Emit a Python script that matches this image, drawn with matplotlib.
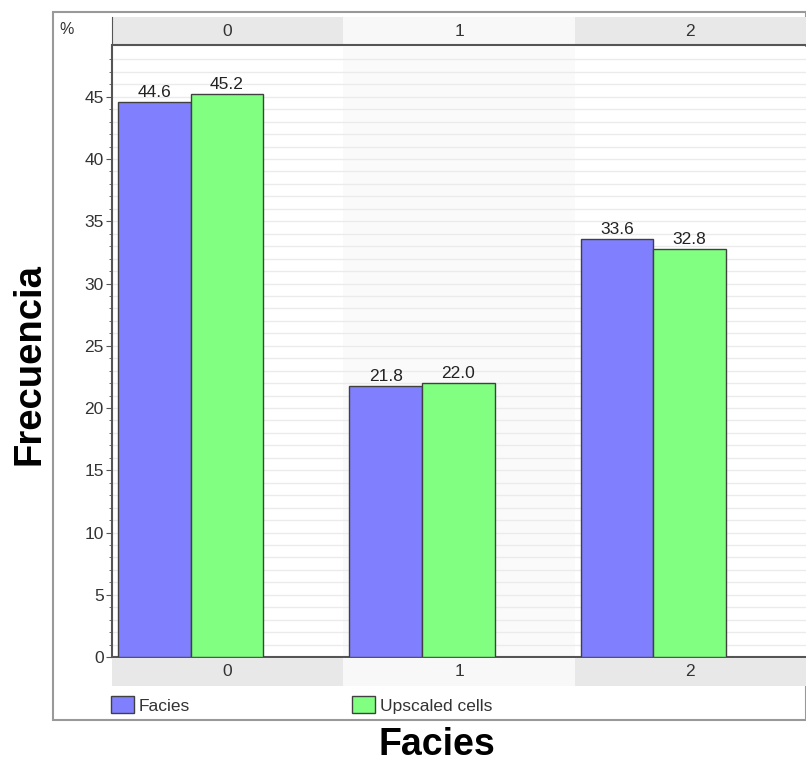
import matplotlib.pyplot as plt
from matplotlib.patches import Rectangle, Patch
import numpy as np

plt.rcParams['font.family'] = ['Liberation Sans', 'DejaVu Sans']

categories = ['0', '1', '2']
facies = [44.6, 21.8, 33.6]
upscaled = [45.2, 22.0, 32.8]
series_names = ['Facies', 'Upscaled cells']

W, H = 806, 766
fig = plt.figure(figsize=(W / 100, H / 100), dpi=100)
fs = 12.5


def box(x0, y0, x1, y1):
    # pixel box (top-left origin) -> figure fraction
    return [x0 / W, 1 - y1 / H, (x1 - x0) / W, (y1 - y0) / H]


# outer panel frame
fig.patches.append(Rectangle((53 / W, 1 - 720 / H), (W - 53) / W, (720 - 12) / H,
                             transform=fig.transFigure, facecolor='white',
                             edgecolor='#999999', lw=1.5, zorder=-5))

ax = fig.add_axes(box(112, 47, 806, 657))
x = np.arange(len(categories))
bw = 0.314
band_bg = ['white', '#fafafa', 'white']
for i in x:
    ax.axvspan(i - 0.5, i + 0.5, color=band_bg[i], zorder=0, lw=0)
ax.set_ylim(0, 49)
ax.set_xlim(-0.5, 2.5)
ax.set_yticks(np.arange(0, 46, 5))
ax.set_yticks(np.arange(0, 49, 1), minor=True)
ax.grid(axis='y', which='both', color='#ebebeb', lw=1, zorder=1)
ax.set_axisbelow(True)

b1 = ax.bar(x - 0.474, facies, bw, align='edge', color='#8080ff',
            edgecolor='#404040', lw=1, zorder=3)
b2 = ax.bar(x - 0.474 + bw, upscaled, bw, align='edge', color='#80ff80',
            edgecolor='#404040', lw=1, zorder=3)
for bars, vals in ((b1, facies), (b2, upscaled)):
    for r, v in zip(bars, vals):
        ax.text(r.get_x() + r.get_width() / 2, v + 0.15, f'{v:.1f}',
                ha='center', va='bottom', fontsize=fs, color='#222222')

ax.set_xticks([])
for s in ['top', 'right']:
    ax.spines[s].set_visible(False)
for s in ['left', 'bottom']:
    ax.spines[s].set_color('#555555')
    ax.spines[s].set_linewidth(1.5)
ax.tick_params(axis='y', which='major', length=4, color='#555555', pad=2,
               labelsize=fs, labelcolor='#333333')
ax.tick_params(axis='y', which='minor', length=2, color='#555555')

# category header and footer strips
hdr_bg = ['#e8e8e8', '#f8f8f8', '#e8e8e8']
for y0, y1, is_header in ((17, 45, True), (658, 686, False)):
    sa = fig.add_axes(box(112, y0, 806, y1))
    sa.set_xlim(-0.5, 2.5)
    sa.set_ylim(0, 1)
    for i, c in enumerate(categories):
        sa.axvspan(i - 0.5, i + 0.5, color=hdr_bg[i], lw=0)
        sa.text(i, 0.5, c, ha='center', va='center', fontsize=fs, color='#333333')
    sa.set_xticks([])
    sa.set_yticks([])
    for s in sa.spines.values():
        s.set_visible(False)
    if is_header:
        sa.spines['bottom'].set_visible(True)
        sa.spines['bottom'].set_color('#555555')
        sa.spines['bottom'].set_linewidth(1.5)
        sa.spines['left'].set_visible(True)
        sa.spines['left'].set_color('#555555')

fig.text(59 / W, 1 - 30 / H, '%', fontsize=fs - 1, color='#333333', va='center')

handles = [Patch(facecolor='#8080ff', edgecolor='#404040'),
           Patch(facecolor='#80ff80', edgecolor='#404040')]
fig.legend(handles, series_names, loc='center left',
           bbox_to_anchor=(111 / W, 1 - 705 / H), ncol=2, frameon=False,
           fontsize=fs, handlelength=1.32, handleheight=1.1, handletextpad=0.3,
           columnspacing=9.3, labelcolor='#333333', borderpad=0, borderaxespad=0)

fig.text(30 / W, 1 - 364 / H, 'Frecuencia', rotation=90, ha='center', va='center',
         fontsize=27.5, fontweight='bold')
fig.text(437 / W, 1 - 745 / H, 'Facies', ha='center', va='center',
         fontsize=27, fontweight='bold')

fig.savefig('out.png', dpi=100)
